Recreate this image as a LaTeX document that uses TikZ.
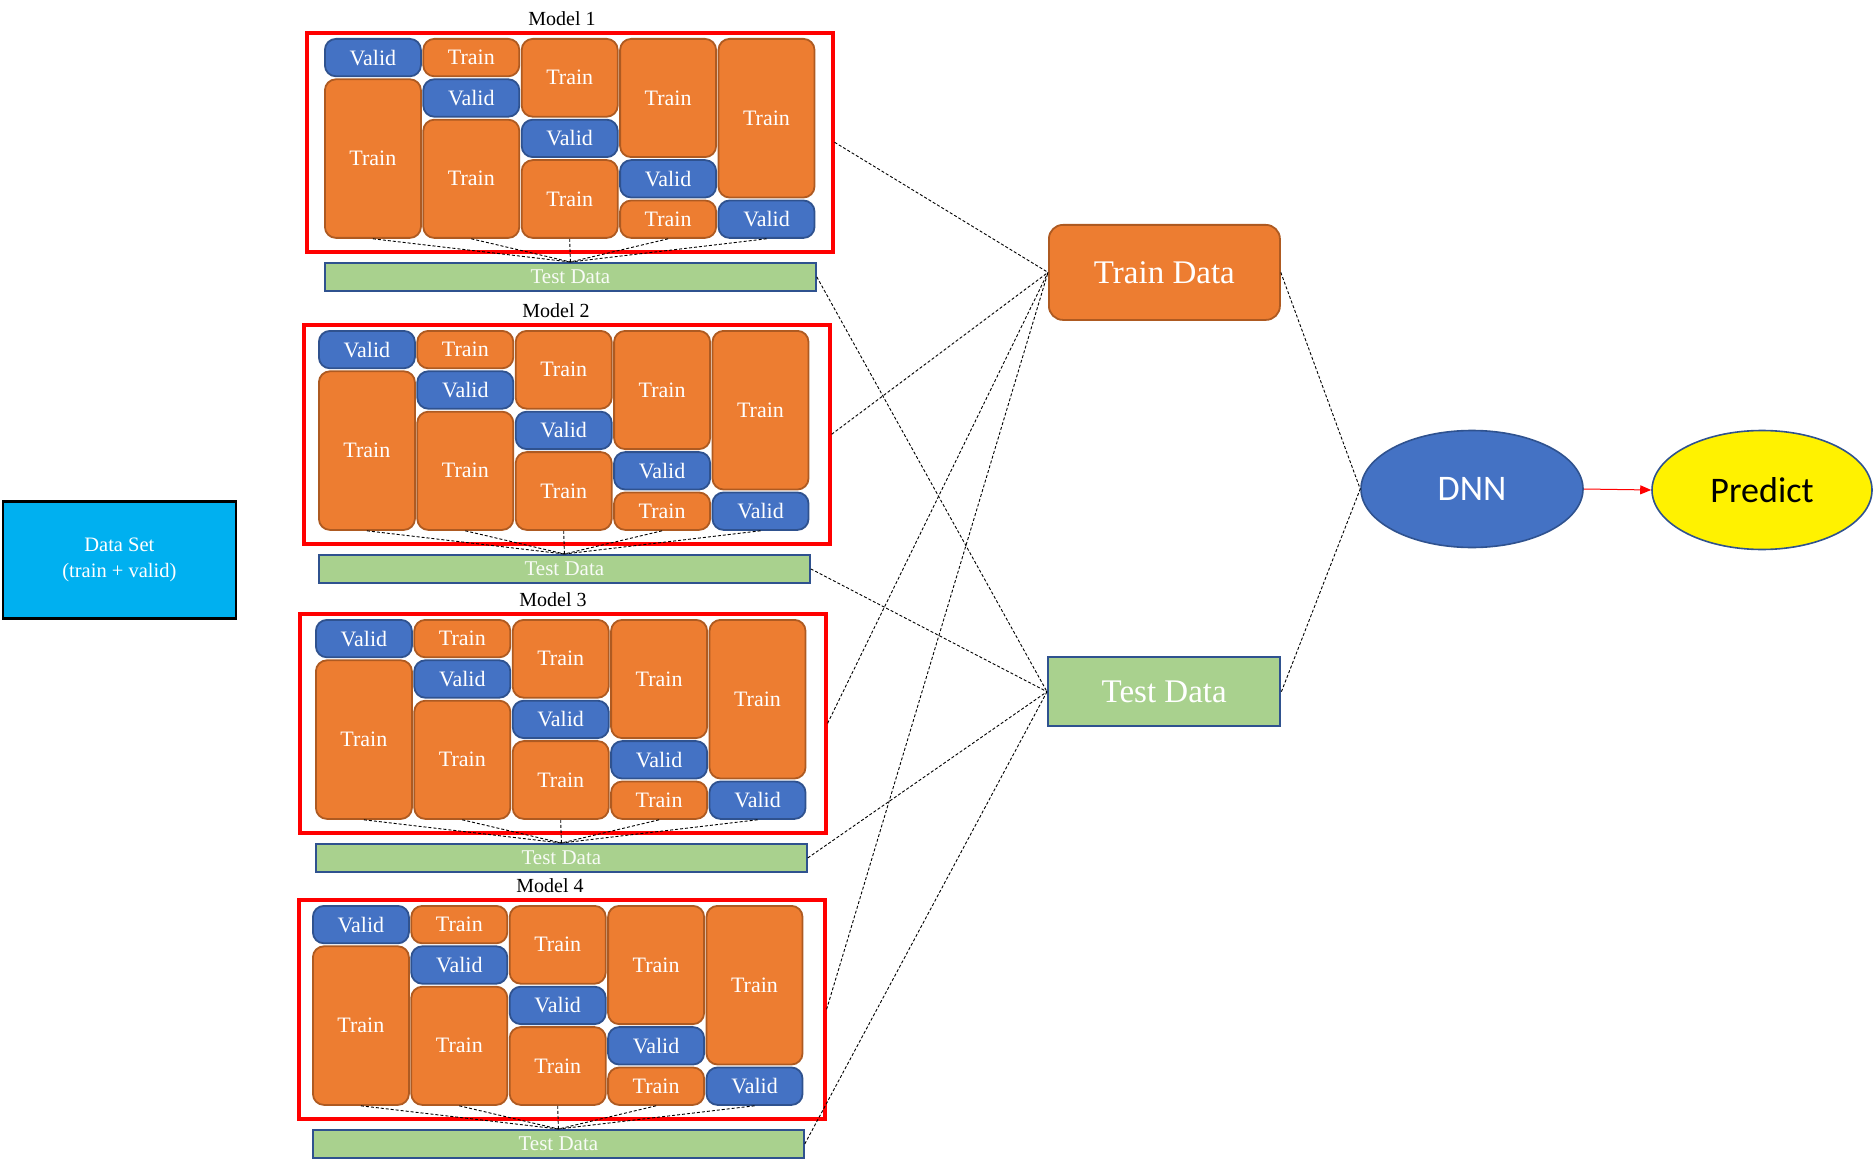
\documentclass[tikz,border=0pt]{standalone}
\usepackage{fontspec}
\setmainfont{Liberation Serif}
\newfontfamily\calib{Carlito}
\usetikzlibrary{arrows.meta,shapes.geometric}
\definecolor{orfill}{HTML}{ED7D31}
\definecolor{ordraw}{HTML}{AE5A21}
\definecolor{blfill}{HTML}{4472C4}
\definecolor{bldraw}{HTML}{2F528F}
\definecolor{grfill}{HTML}{A9D18E}
\definecolor{cyfill}{HTML}{00B0F0}
\tikzset{
  cellbase/.style={rounded corners=11pt, line width=1.8pt, inner sep=0pt, anchor=north west,
    text=white, font=\fontsize{22}{24}\selectfont, minimum width=96pt},
  traincell/.style={cellbase, fill=orfill, draw=ordraw},
  validcell/.style={cellbase, fill=blfill, draw=bldraw},
  redbox/.style={draw=red, line width=3.6pt, inner sep=0pt, anchor=north west,
    minimum width=526pt, minimum height=219pt},
  testbar/.style={draw=bldraw, fill=grfill, line width=1.8pt, inner sep=0pt, anchor=north west,
    minimum width=491pt, minimum height=28pt, text=white!92!grfill, font=\fontsize{21}{23}\selectfont},
  modellabel/.style={font=\fontsize{20}{22}\selectfont, inner sep=0pt},
  conn/.style={draw=black, line width=0.9pt, dash pattern=on 3pt off 2pt},
}
\begin{document}
\begin{tikzpicture}[x=1pt,y=-1pt]
\useasboundingbox (0,0) rectangle (1874,1169);
% Models
\foreach \m/\gx/\gy/\rx in {1/324/38/305, 2/318/330/302, 3/315/619/298, 4/312/905/297} {
  \node[redbox] (r\m) at ({\rx},{\gy-7}) {};
  \node[modellabel] (lab\m) at ({\gx+238},{\gy-19}) {Model \m};
  \node[testbar] (t\m) at ({\gx},{\gy+224}) {Test Data};
  \foreach \c in {1,...,5} {
    \pgfmathsetmacro\cx{\gx+(\c-1)*98.4}
    \pgfmathsetmacro\vy{\gy+(\c-1)*40.4}
    \pgfmathsetmacro\by{\gy+\c*40.4}
    \ifnum\c>1
      \pgfmathsetmacro\ah{(\c-1)*40.4-3}
      \node[traincell, minimum height=\ah pt] (m\m c\c a) at (\cx,\gy) {Train};
    \fi
    \ifnum\c<5
      \node[validcell, minimum height=37.4pt] (m\m c\c v) at (\cx,\vy) {Valid};
      \pgfmathsetmacro\bh{(5-\c)*40.4-3}
      \node[traincell, minimum height=\bh pt] (m\m c\c bot) at (\cx,\by) {Train};
    \else
      \node[validcell, minimum height=37.4pt] (m\m c\c bot) at (\cx,\vy) {Valid};
    \fi
    \draw[conn] (m\m c\c bot.south) -- (t\m.north);
  }
}
% Data set
\node[draw=black, line width=2.8pt, fill=cyfill, minimum width=233pt, minimum height=117pt,
  inner sep=0pt, anchor=north west, text=white, align=center,
  font=\fontsize{20.5}{26}\selectfont] (ds) at (1.5,500) {Data Set\\(train + valid)};
% Train data / Test data
\node[rounded corners=14pt, draw=ordraw, fill=orfill, line width=1.8pt, minimum width=231pt,
  minimum height=95pt, inner sep=0pt, anchor=north west, text=white,
  font=\fontsize{33}{36}\selectfont] (trd) at (1048,224) {Train Data};
\node[draw=bldraw, fill=grfill, line width=2.4pt, minimum width=232pt,
  minimum height=69pt, inner sep=0pt, anchor=north west, text=white,
  font=\fontsize{33}{36}\selectfont] (ted) at (1047,656) {Test Data};
% DNN / Predict
\node[ellipse, draw=bldraw, fill=blfill, line width=1.6pt, minimum width=222pt,
  minimum height=117pt, inner sep=0pt, text=white, font=\calib\fontsize{36}{40}\selectfont]
  (dnn) at (1472,489) {DNN};
\node[ellipse, draw=bldraw, fill=yellow, line width=1.6pt, minimum width=220pt,
  minimum height=119pt, inner sep=0pt, text=black, font=\calib\fontsize{36}{40}\selectfont]
  (pred) at (1762,490) {Predict};
\draw[red, line width=1pt, -{Triangle[length=11pt,width=9pt]}] (dnn.east) -- (pred.west);
% connectors
\foreach \m in {1,...,4} {
  \draw[conn] (r\m.east) -- (trd.west);
  \draw[conn] (t\m.east) -- (ted.west);
}
\draw[conn] (trd.east) -- (dnn.west);
\draw[conn] (ted.east) -- (dnn.west);
\end{tikzpicture}
\end{document}
